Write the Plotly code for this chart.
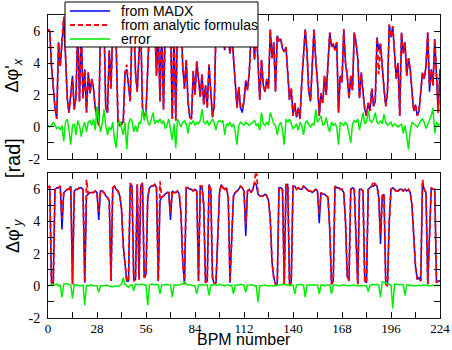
import plotly.graph_objects as go

COLORS = {
    "madx": "#0000FF",
    "analytic": "#FF0000",
    "error": "#00EE00",
    "axis": "#111111",
    "text": "#000000",
}

bpm = list(range(0, 225))

X_TICKS = [0, 14, 28, 42, 56, 70, 84, 98, 112, 126, 140, 154, 168, 182, 196, 210, 224]
X_LABELS = ["0", "", "28", "", "56", "", "84", "", "112", "", "140", "", "168", "", "196", "", "224"]
Y_TICKS = [-2, -1, 0, 1, 2, 3, 4, 5, 6, 7]
Y_LABELS = ["-2", "", "0", "", "2", "", "4", "", "6", ""]

SERIES_NAMES = ["from MADX", "from analytic formulas", "error"]

# horizontal phase advance
madx_x = [
    6.1, 6.0, 3.8, 2.4, 1.2, 0.5, 5.3, 3.8, 5.3, 6.7,
    4.5, 1.8, 0.9, 1.9, 3.2, 1.1, 1.9, 6.3, 1.6, 6.0,
    1.8, 3.6, 0.9, 3.4, 2.1, 3.0, 2.4, 1.2, 0.6, 0.1,
    6.4, 5.8, 6.5, 1.2, 0.9, 4.8, 2.4, 6.2, 6.6, 5.0,
    0.3, 0.1, 0.2, 0.4, 3.4, 3.6, 2.6, 1.6, 6.3, 6.8,
    3.4, 2.2, 4.6, 6.2, 1.2, 0.6, 0.9, 3.4, 6.4, 6.6,
    5.8, 6.5, 3.2, 6.3, 1.6, 6.6, 1.1, 6.2, 5.6, 6.7,
    6.4, 0.5, 6.0, 0.4, 6.6, 6.3, 6.8, 3.8, 2.4, 4.2,
    1.6, 0.6, 0.5, 3.5, 2.0, 4.1, 2.8, 1.9, 3.3, 1.4,
    2.6, 1.2, 3.9, 2.2, 0.6, 1.3, 6.3, 5.4, 6.0, 5.2,
    5.7, 4.8, 6.1, 5.5, 4.6, 5.9, 4.3, 3.1, 1.2, 2.5,
    1.2, 0.9, 1.6, 2.9, 2.3, 3.4, 5.6, 6.3, 4.2, 6.4,
    3.5, 1.7, 4.2, 2.6, 2.2, 3.0, 2.4, 6.1, 4.3, 5.3,
    2.2, 5.7, 5.4, 5.5, 4.9, 4.7, 5.0, 3.1, 1.7, 2.4,
    0.7, 1.5, 0.6, 1.2, 0.5, 2.8, 4.6, 6.1, 4.7, 2.2,
    1.6, 3.9, 6.1, 4.2, 2.8, 0.7, 2.1, 1.5, 3.2, 2.0,
    4.2, 5.9, 5.0, 5.2, 4.8, 5.3, 0.9, 3.2, 2.8, 6.1,
    4.0, 3.2, 1.8, 3.2, 2.3, 5.9, 5.3, 4.3, 1.8, 3.4,
    2.2, 1.1, 0.7, 1.5, 1.0, 2.4, 1.3, 1.6, 5.6, 4.8,
    5.2, 3.6, 2.4, 1.3, 2.2, 6.4, 5.6, 6.3, 4.2, 3.0,
    4.0, 0.7, 5.9, 4.6, 5.3, 3.2, 4.3, 3.6, 2.2, 1.0,
    1.4, 0.7, 1.0, 2.0, 3.4, 3.0, 3.8, 5.9, 2.2, 3.6,
    2.6, 5.5, 3.2, 0.9, 3.6,
]

analytic_x = [
    6.1, 6.0, 3.8, 2.4, 1.2, 0.5, 5.3, 3.8, 5.3, 6.9,
    4.5, 1.8, 0.9, 1.9, 3.0, 1.1, 1.9, 6.3, 1.6, 6.0,
    1.8, 3.6, 0.9, 3.4, 2.1, 3.0, 2.4, 1.2, 0.6, 0.1,
    6.4, 5.8, 6.5, 1.2, 0.9, 4.8, 2.4, 6.2, 6.6, 5.0,
    0.3, 0.1, 0.2, 0.1, 3.4, 3.9, 2.6, 1.6, 6.3, 6.8,
    3.4, 2.2, 4.6, 6.2, 1.2, 0.6, 0.9, 3.4, 6.4, 6.6,
    5.8, 6.5, 3.2, 6.3, 1.6, 6.6, 1.1, 6.2, 5.6, 6.7,
    6.4, 0.5, 6.0, 0.4, 6.6, 6.3, 6.8, 3.8, 2.4, 4.2,
    1.6, 0.6, 0.5, 3.5, 2.0, 4.1, 2.8, 1.9, 3.3, 1.4,
    2.6, 1.2, 3.9, 2.2, 0.6, 1.3, 6.3, 5.4, 6.0, 5.2,
    5.7, 4.8, 6.1, 5.5, 4.6, 5.9, 4.3, 3.1, 1.2, 2.5,
    1.2, 1.2, 1.6, 2.9, 2.3, 3.4, 5.6, 6.3, 4.2, 6.4,
    3.5, 1.7, 4.2, 2.6, 2.2, 3.0, 2.4, 6.1, 4.3, 5.3,
    2.2, 5.7, 5.4, 5.5, 4.9, 4.7, 5.0, 3.1, 1.7, 2.4,
    0.7, 1.5, 0.6, 1.2, 0.5, 2.8, 4.6, 6.1, 4.7, 2.2,
    1.6, 3.9, 6.1, 4.2, 2.8, 0.7, 2.1, 1.5, 3.2, 2.0,
    4.2, 5.9, 5.0, 5.2, 4.8, 5.3, 0.9, 3.2, 2.8, 6.1,
    4.0, 3.2, 1.8, 3.2, 2.3, 5.9, 5.3, 4.3, 1.8, 3.4,
    2.2, 1.1, 0.7, 1.5, 1.0, 2.4, 1.3, 1.6, 5.6, 3.3,
    5.2, 3.6, 2.4, 1.3, 2.2, 6.4, 5.6, 6.3, 4.2, 3.0,
    4.0, 0.7, 5.9, 4.6, 5.3, 3.2, 4.3, 3.6, 2.2, 1.0,
    1.4, 0.7, 1.0, 2.0, 3.4, 3.0, 3.8, 5.9, 2.6, 3.6,
    2.6, 5.5, 3.2, 0.9, 3.6,
]

error_x = [
    0.1, 0.0, 0.1, 0.3, 0.1, -0.1, 0.0, -0.2, 0.1, -0.9,
    0.3, 0.5, -0.2, -1.1, 0.1, 0.2, -0.5, 0.4, 0.1, -0.6,
    0.0, 0.3, -0.3, 0.3, 0.4, 0.1, 0.5, -0.2, 1.3, 0.3,
    -0.3, 0.2, 1.1, 0.1, -0.5, 0.0, -0.2, 0.3, -0.8, -1.3,
    0.2, 0.4, 0.0, -0.5, 0.3, -1.4, 0.2, 0.5, 0.4, -0.3,
    0.1, -0.3, 0.3, 0.2, 1.1, 0.4, 1.0, 0.3, 0.1, 0.5,
    0.9, 0.2, 0.4, 0.3, 0.5, 0.2, 0.4, -0.1, 0.1, 0.5,
    -0.1, -0.8, 0.2, -1.3, 0.5, 0.2, 0.0, 0.3, 0.4, 0.2,
    -0.4, 0.3, 0.2, 0.4, 0.1, 0.3, 0.2, 0.4, 1.1, 0.3,
    0.2, 0.4, 0.1, 0.3, 0.5, 0.3, -0.2, 0.3, 0.4, 0.3,
    0.4, -0.5, 0.2, 0.1, 0.3, 0.0, 0.2, -0.3, -1.1, 0.1,
    0.3, 0.2, 0.1, 0.3, 0.2, 0.1, 0.2, 0.3, 0.4, 0.1,
    0.2, -0.2, 0.9, 0.2, 0.1, 0.3, 0.1, 0.9, 0.5, 0.2,
    0.1, -0.5, 0.1, 0.3, -0.2, -1.1, 0.5, 0.3, 0.5, 0.2,
    -0.1, 0.0, 0.2, -0.2, 0.3, 0.1, -0.5, 0.2, 0.4, 0.1,
    0.0, 0.2, 0.1, 1.1, 0.3, 0.5, 0.7, 0.1, 0.2, 0.6,
    0.0, -0.3, 0.3, 0.1, 0.2, 0.0, -1.1, 0.3, 0.2, 0.1,
    0.3, 0.1, -0.4, -1.0, 0.2, 0.4, 0.3, 0.5, -0.2, 0.3,
    0.9, 0.2, 0.3, 1.0, 0.4, 0.3, 0.5, 0.9, 0.3, 0.2,
    0.4, 0.2, 0.8, 0.3, 0.1, 0.2, 0.3, 0.0, 0.2, 0.1,
    0.0, 0.1, 0.2, -0.4, 0.1, -0.6, -1.4, -0.2, 0.3, 0.2,
    0.1, 0.0, 0.2, 0.4, 0.5, 0.3, -0.1, 0.2, 0.4, 0.7,
    1.2, -0.4, 0.3, 0.1, 0.2,
]

# vertical phase advance
madx_y = [
    6.1, 6.2, 0.2, 0.1, 6.0, 6.1, 6.1, 6.2, 3.5, 5.8,
    5.9, 6.0, 6.0, 6.2, 0.1, 5.9, 6.0, 6.0, 6.1, 6.1,
    6.0, 0.2, 5.6, 5.7, 5.8, 5.8, 5.8, 5.9, 5.8, 4.1,
    5.9, 5.9, 5.8, 5.6, 5.5, 5.3, 0.3, 6.1, 6.2, 6.0,
    5.9, 5.6, 4.8, 2.5, 1.2, 0.3, 0.3, 6.3, 6.2, 0.3,
    0.4, 6.3, 0.4, 6.2, 6.4, 0.5, 0.7, 5.5, 6.1, 6.2,
    6.2, 6.3, 6.1, 0.3, 5.3, 5.5, 5.6, 5.7, 5.8, 5.8,
    4.1, 5.9, 5.8, 5.8, 5.9, 5.7, 4.5, 1.5, 0.1, 6.1,
    6.1, 6.0, 6.0, 5.9, 6.0, 5.9, 0.3, 6.2, 6.2, 5.0,
    0.2, 0.3, 6.3, 6.0, 0.5, 0.1, 0.2, 3.0, 5.8, 6.3,
    6.1, 6.0, 6.1, 5.5, 0.2, 3.0, 5.6, 5.8, 5.9, 6.0,
    6.2, 6.1, 5.9, 3.1, 5.9, 6.0, 5.8, 6.0, 6.4, 6.3,
    5.7, 5.6, 5.6, 5.6, 5.7, 5.6, 5.3, 4.2, 1.5, 0.5,
    0.1, 0.1, 6.1, 6.1, 6.0, 0.1, 6.3, 6.3, 0.1, 0.2,
    6.2, 6.2, 6.0, 6.1, 6.0, 6.0, 6.2, 6.1, 6.0, 5.9,
    5.9, 5.8, 5.9, 6.0, 5.9, 3.9, 5.8, 5.7, 5.7, 5.6,
    5.5, 3.5, 0.1, 0.3, 6.2, 6.1, 6.1, 6.0, 6.0, 5.8,
    4.0, 0.6, 0.3, 6.0, 6.1, 6.0, 2.5, 0.1, 6.0, 6.0,
    5.9, 0.3, 0.2, 6.0, 6.1, 6.2, 6.2, 6.3, 6.2, 5.5,
    2.6, 5.6, 5.7, 0.1, 0.0, 4.0, 6.0, 6.1, 6.0, 5.9,
    5.9, 6.0, 6.0, 5.9, 6.0, 5.9, 6.0, 5.8, 5.0, 3.0,
    1.2, 0.4, 0.5, 0.3, 6.4, 6.0, 5.8, 0.1, 3.0, 6.1,
    6.0, 6.0, 0.2, 0.3, 0.3,
]

analytic_y = [
    6.1, 6.2, 0.2, 0.1, 6.0, 6.1, 6.1, 6.2, 4.2, 5.8,
    5.9, 6.0, 6.0, 6.2, 0.1, 5.9, 6.0, 6.0, 6.1, 6.1,
    6.0, 0.2, 6.6, 5.7, 5.8, 5.8, 5.8, 5.9, 5.8, 4.6,
    5.9, 5.9, 5.8, 5.6, 5.5, 5.3, 0.3, 6.1, 6.2, 6.0,
    5.9, 5.6, 4.8, 2.5, 1.2, 0.3, 0.3, 6.4, 6.2, 0.3,
    0.4, 6.3, 0.4, 6.2, 6.4, 0.5, 0.7, 5.5, 6.1, 6.2,
    6.2, 6.3, 6.1, 0.3, 6.5, 5.5, 5.6, 5.7, 5.8, 5.8,
    4.5, 5.9, 5.8, 5.8, 5.9, 5.7, 4.5, 1.5, 0.1, 6.1,
    6.1, 6.0, 6.0, 5.9, 6.0, 5.9, 0.3, 6.2, 6.2, 5.0,
    0.2, 0.3, 6.3, 6.0, 0.5, 0.1, 0.2, 3.0, 5.8, 6.3,
    6.1, 6.0, 6.1, 5.5, 0.2, 3.0, 5.6, 5.8, 5.9, 6.0,
    6.2, 6.1, 5.9, 3.8, 5.9, 6.0, 5.8, 6.0, 6.4, 7.4,
    5.7, 5.6, 5.6, 5.6, 5.7, 5.6, 5.3, 4.2, 1.5, 0.5,
    0.1, 0.1, 6.1, 6.1, 6.0, 0.1, 6.3, 6.3, 0.1, 0.2,
    6.2, 6.2, 6.0, 6.1, 6.0, 6.0, 6.2, 6.1, 6.0, 5.9,
    5.9, 5.8, 5.9, 6.0, 5.9, 4.5, 5.8, 5.7, 5.7, 5.6,
    5.5, 3.5, 0.1, 0.3, 6.2, 6.1, 6.1, 6.0, 6.0, 5.8,
    4.0, 0.6, 0.3, 6.0, 6.1, 6.0, 2.5, 0.1, 6.0, 6.0,
    5.9, 0.3, 0.2, 6.0, 6.1, 6.2, 6.5, 6.3, 6.2, 5.5,
    3.2, 5.6, 5.7, 0.1, 0.0, 4.0, 6.0, 6.1, 6.0, 5.9,
    5.9, 6.0, 6.0, 5.9, 6.0, 5.9, 6.0, 5.8, 5.0, 3.0,
    1.2, 0.4, 0.5, 0.3, 6.6, 6.0, 5.8, 0.1, 3.0, 6.1,
    6.0, 6.0, 0.2, 0.3, 0.3,
]

error_y = [
    0.0, 0.05, 0.1, 0.1, 0.05, 0.1, 0.0, 0.05, -0.7, 0.1,
    0.15, 0.1, 0.1, 0.05, -0.8, 0.1, 0.05, 0.05, 0.0, 0.0,
    0.05, -1.2, 0.05, 0.0, 0.05, 0.05, 0.0, 0.0, 0.0, -0.4,
    0.0, 0.0, 0.0, 0.05, 0.0, 0.0, -0.05, -0.05, 0.0, 0.0,
    -0.05, 0.0, 0.1, 0.5, 0.1, 0.0, -0.1, 0.05, 0.05, -0.3,
    0.1, 0.1, 0.05, 0.1, 0.1, 0.05, 0.05, -1.2, 0.05, 0.1,
    0.1, 0.05, 0.1, 0.05, -0.5, 0.05, 0.05, 0.05, 0.1, 0.05,
    0.05, -0.7, 0.05, 0.05, 0.05, 0.05, 0.1, 0.1, 0.25, 0.1,
    0.05, 0.05, 0.05, 0.0, 0.0, -0.5, 0.05, 0.05, 0.05, 0.05,
    0.05, 0.05, -0.6, 0.05, 0.05, 0.1, 0.05, 0.05, 0.1, 0.05,
    0.05, 0.0, 0.05, 0.05, 0.0, 0.05, -0.5, 0.05, 0.05, 0.05,
    0.1, 0.05, 0.05, -0.4, 0.05, 0.05, 0.05, 0.05, 0.0, 0.0,
    -1.0, 0.0, 0.0, 0.05, 0.05, 0.0, 0.0, 0.0, 0.0, 0.0,
    0.0, 0.05, 0.05, 0.05, 0.1, 0.05, 0.05, 0.05, 0.0, 0.05,
    0.05, -0.5, 0.05, 0.05, 0.1, 0.05, 0.05, -0.7, 0.05, 0.05,
    0.05, 0.05, 0.05, 0.05, 0.05, -0.5, 0.05, 0.05, 0.0, 0.05,
    0.05, 0.05, -0.5, 0.05, 0.05, 0.05, 0.0, 0.0, 0.05, 0.05,
    0.05, 0.0, 0.0, 0.0, 0.05, 0.05, 0.0, 0.0, 0.0, 0.0,
    0.0, 0.0, 0.0, -0.35, 0.05, 0.05, 0.1, 0.05, 0.1, 0.05,
    -0.7, 0.25, 0.2, 0.2, 0.15, 0.1, 0.05, -1.4, 0.1, 0.1,
    0.1, 0.05, 0.1, 0.05, -0.6, 0.05, 0.05, 0.05, 0.0, 0.0,
    0.0, 0.0, 0.05, 0.0, 0.05, 0.05, 0.05, 0.0, 0.0, 0.0,
    0.05, 0.0, 0.05, 0.0, 0.0,
]

LINE_STYLES = [
    dict(color=COLORS["madx"], width=1.5),
    dict(color=COLORS["analytic"], width=1.8, dash="5px,3px"),
    dict(color=COLORS["error"], width=1.5),
]


def add_panel(fig, xaxis, yaxis, series):
    for name, values, style in zip(SERIES_NAMES, series, LINE_STYLES):
        fig.add_trace(go.Scatter(
            x=bpm, y=values, mode="lines", name=name, line=style,
            xaxis=xaxis, yaxis=yaxis, showlegend=False
        ))


fig = go.Figure()
add_panel(fig, "x", "y", [madx_x, analytic_x, error_x])
add_panel(fig, "x2", "y2", [madx_y, analytic_y, error_y])

axis_common = dict(
    showline=True,
    linecolor=COLORS["axis"],
    linewidth=1,
    mirror="ticks",
    ticks="inside",
    ticklen=6,
    tickcolor=COLORS["axis"],
    showgrid=False,
    zeroline=False,
    automargin=False,
    tickfont=dict(family="Liberation Serif", size=14, color=COLORS["text"]),
)

# legend box drawn as a compact key (plotly's own legend rows are too tall here)
legend_box = dict(type="rect", xref="paper", yref="paper",
                  x0=0.0434, x1=0.5357, y0=0.8944, y1=1.0429,
                  fillcolor="white", line=dict(color="black", width=1),
                  layer="above")
legend_rows = [1.0132, 0.967, 0.9208]
legend_shapes = [legend_box]
legend_texts = []
for name, style, row in zip(SERIES_NAMES, LINE_STYLES, legend_rows):
    legend_shapes.append(dict(type="line", xref="paper", yref="paper",
                              x0=0.0561, x1=0.1582, y0=row, y1=row,
                              line=style, layer="above"))
    legend_texts.append(dict(text=name, xref="paper", yref="paper",
                             x=0.1811, y=row, xanchor="left", yanchor="middle",
                             showarrow=False,
                             font=dict(family="Liberation Sans", size=14)))

fig.update_layout(
    width=452,
    height=350,
    paper_bgcolor="white",
    plot_bgcolor="white",
    margin=dict(l=48, r=12, t=15, b=32, autoexpand=False),
    font=dict(family="Liberation Sans", size=14, color=COLORS["text"]),
    showlegend=False,
    xaxis=dict(axis_common, domain=[0, 1], anchor="y", range=[0, 224],
               tickvals=X_TICKS, ticktext=X_LABELS, showticklabels=False),
    yaxis=dict(axis_common, domain=[0.5248, 1], anchor="x", range=[-2, 7],
               tickvals=Y_TICKS, ticktext=Y_LABELS, ticklabelstandoff=4),
    xaxis2=dict(axis_common, domain=[0, 1], anchor="y2", range=[0, 224],
                tickvals=X_TICKS, ticktext=X_LABELS, ticklabelstandoff=-2,
                tickfont=dict(family="Liberation Serif", size=13,
                              color=COLORS["text"])),
    yaxis2=dict(axis_common, domain=[0, 0.4776], anchor="x2", range=[-2, 7],
                tickvals=Y_TICKS, ticktext=Y_LABELS, ticklabelstandoff=4),
    shapes=legend_shapes,
    annotations=legend_texts + [
        dict(text="BPM number", xref="paper", yref="paper",
             x=0.5, y=-0.1056, xanchor="center", yanchor="bottom",
             showarrow=False, font=dict(family="Liberation Sans", size=16)),
        dict(text="Δφ'<sub><i>x</i></sub>", xref="paper", yref="paper",
             x=-0.087, y=0.80, xanchor="center", yanchor="middle",
             textangle=-90, showarrow=False,
             font=dict(family="Liberation Sans", size=18)),
        dict(text="[rad]", xref="paper", yref="paper",
             x=-0.089, y=0.528, xanchor="center", yanchor="middle",
             textangle=-90, showarrow=False,
             font=dict(family="Liberation Sans", size=20)),
        dict(text="Δφ'<sub><i>y</i></sub>", xref="paper", yref="paper",
             x=-0.087, y=0.27, xanchor="center", yanchor="middle",
             textangle=-90, showarrow=False,
             font=dict(family="Liberation Sans", size=18)),
    ],
)

fig.write_html(
    "out.html",
    config={"displayModeBar": False},
    post_script="document.body.style.margin='0';",
)
